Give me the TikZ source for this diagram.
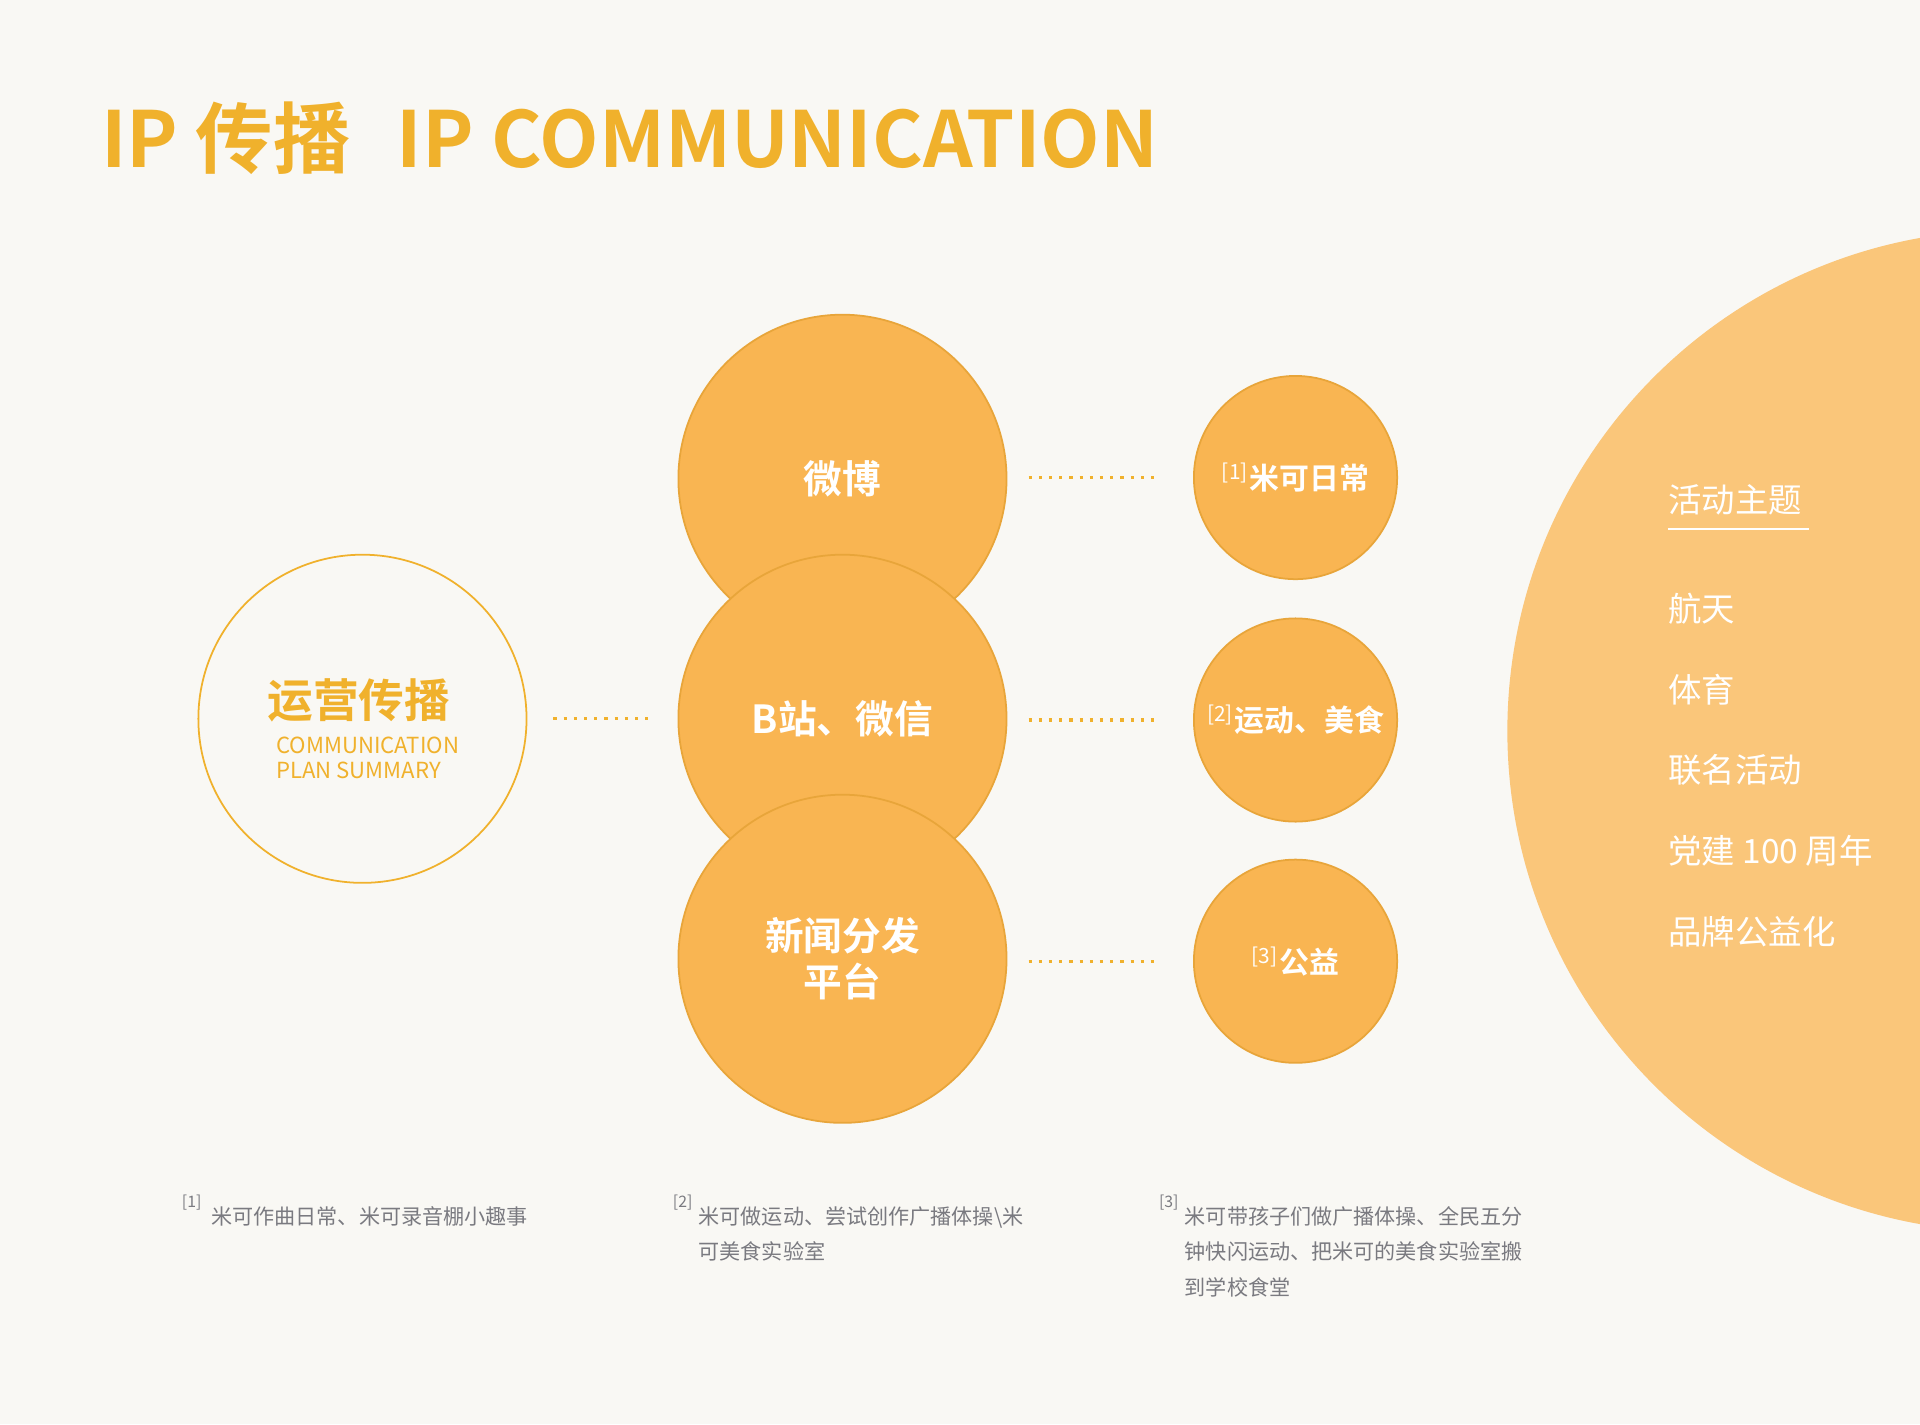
\documentclass[tikz,border=0pt]{standalone}
\usepackage{fontspec}
\setmainfont[BoldFont={Noto Sans CJK SC Bold}]{Noto Sans CJK SC}
\definecolor{bgc}{HTML}{F9F8F4}
\definecolor{gold}{HTML}{F0B12C}
\definecolor{ball}{HTML}{F9B552}
\definecolor{balledge}{HTML}{E8A53A}
\definecolor{bigc}{HTML}{FAC67A}
\definecolor{note}{HTML}{7A7A80}
\tikzset{
  ballc/.style={circle,fill=ball,draw=balledge,line width=0.5pt,minimum size=268*0.012245cm,inner sep=0pt,text=white,font=\bfseries\fontsize{11}{13}\selectfont,align=center},
  smallc/.style={circle,fill=ball,draw=balledge,line width=0.5pt,minimum size=166*0.012245cm,inner sep=0pt,text=white,font=\bfseries\fontsize{8.5}{10}\selectfont},
  dots/.style={gold,dotted,line width=0.9pt},
  listtxt/.style={anchor=west,text=white,font=\fontsize{9.5}{11}\selectfont,inner sep=0pt},
  notetxt/.style={anchor=north west,text=note,font=\fontsize{6}{10}\selectfont,align=left,inner sep=0pt},
  notenum/.style={anchor=north west,text=note,font=\fontsize{4.5}{5}\selectfont,inner sep=0pt}
}
\begin{document}
\begin{tikzpicture}[x=0.012245cm,y=-0.012245cm]
\fill[bgc] (0,0) rectangle (1568,1163);
\useasboundingbox (0,0) rectangle (1568,1163);
% big circle
\begin{scope}
\clip (0,0) rectangle (1568,1163);
\fill[bigc] (1640,597) circle (409);
\end{scope}
% title
\node[anchor=west,text=gold,font=\bfseries\fontsize{22}{26}\selectfont,inner sep=0pt] (title) at (82,113) {IP 传播\hspace{0.6em}IP COMMUNICATION};
% left circle
\node[circle,draw=gold,line width=0.5pt,minimum size=268*0.012245cm] (plan) at (296,587) {};
\node[text=gold,font=\bfseries\fontsize{13}{15}\selectfont] (plant) at (293,572) {运营传播};
\node[anchor=north west,text=gold,font=\fontsize{6.3}{7.3}\selectfont,align=left,inner sep=0pt] (plansub) at (225,601) {COMMUNICATION\\PLAN SUMMARY};
% channels
\node[ballc] (weibo) at (688,391) {微博};
\node[ballc] (bili) at (688,587) {B站、微信};
\node[ballc] (news) at (688,783) {新闻分发\\平台};
\node[smallc] (s1) at (1058,390) {\textsuperscript{\mdseries[1]}米可日常};
\node[smallc] (s2) at (1058,588) {\textsuperscript{\mdseries[2]}运动、美食};
\node[smallc] (s3) at (1058,785) {\textsuperscript{\mdseries[3]}公益};
\coordinate (pl) at (452,587); \coordinate (pr) at (530,587);
\draw[dots] (pl) -- (pr);
\foreach \y/\n in {390/1,588/2,785/3}{
  \coordinate (a\n) at (840,\y); \coordinate (b\n) at (947,\y);
  \draw[dots] (a\n) -- (b\n);
}
% right list
\node[listtxt] (theme) at (1362,408) {活动主题};
\coordinate (ul) at (1362,432); \coordinate (ur) at (1477,432);
\draw[white,line width=0.6pt] (ul) -- (ur);
\node[listtxt] (t1) at (1362,497) {航天};
\node[listtxt] (t2) at (1362,563) {体育};
\node[listtxt] (t3) at (1362,629) {联名活动};
\node[listtxt] (t4) at (1362,695) {党建 100 周年};
\node[listtxt] (t5) at (1362,761) {品牌公益化};
% notes
\node[notenum] (n1) at (148,975) {[1]};
\node[notetxt] (f1) at (172,985) {米可作曲日常、米可录音棚小趣事};
\node[notenum] (n2) at (549,975) {[2]};
\node[notetxt] (f2) at (570,985) {米可做运动、尝试创作广播体操\textbackslash 米\\可美食实验室};
\node[notenum] (n3) at (946,975) {[3]};
\node[notetxt] (f3) at (967,985) {米可带孩子们做广播体操、全民五分\\钟快闪运动、把米可的美食实验室搬\\到学校食堂};
\end{tikzpicture}
\end{document}
